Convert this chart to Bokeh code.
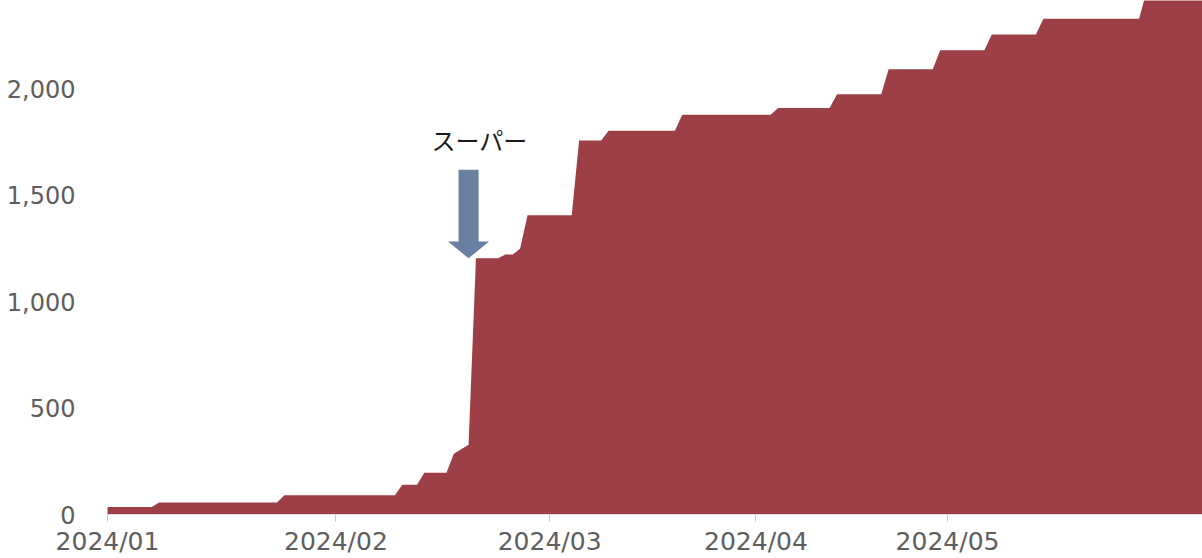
from bokeh.plotting import figure
from bokeh.models import Range1d, FixedTicker, NumeralTickFormatter
from bokeh.core.properties import value
from bokeh.embed import file_html
from bokeh.resources import INLINE

# Cumulative count per day slot (one slot per recorded day, Jan 1 = slot 0).
# Each level is listed by its first and last slot.
slots = [0, 6, 7, 23, 24, 39, 40, 42, 43, 46, 47, 49, 50, 53, 54, 55, 56, 57,
         63, 64, 67, 68, 77, 78, 90, 91, 98, 99, 105, 106, 112, 113, 119, 120,
         126, 127, 140, 141, 149]
totals = [35, 35, 56, 56, 91, 91, 140, 140, 196, 196, 285, 328, 1204, 1204,
          1222, 1222, 1250, 1407, 1407, 1758, 1758, 1804, 1804, 1879, 1879,
          1911, 1911, 1975, 1975, 2093, 2093, 2182, 2182, 2256, 2256, 2330,
          2330, 2460, 2460]

month_slots = [0, 31, 60, 88, 114]
month_labels = ["2024/01", "2024/02", "2024/03", "2024/04", "2024/05"]
y_ticks = [0, 500, 1000, 1500, 2000]

# Callout: the jump when the supermarket entries were added
callout_text = "スーパー"
callout_slot = 49
callout_tip = 1204
callout_tail = 1621
callout_label_y = 1762

AREA_COLOR = "#9C3F46"
ARROW_COLOR = "#6A80A2"
LABEL_COLOR = "#5E5E5E"

W, H = 1202, 558
FRAME_LEFT, FRAME_BOTTOM = 95, 41
X_START, X_END = -1.63, 148.6
Y_END = 2416

p = figure(width=W, height=H, output_backend="svg", toolbar_location=None,
           x_range=Range1d(X_START, X_END), y_range=Range1d(0, Y_END),
           min_border_left=FRAME_LEFT, min_border_right=0,
           min_border_top=0, min_border_bottom=FRAME_BOTTOM)
p.outline_line_color = None
p.xgrid.visible = False
p.ygrid.visible = False
p.background_fill_color = "white"

p.varea(x=slots, y1=[0] * len(slots), y2=totals, fill_color=AREA_COLOR)

# x axis: month ticks
xa = p.xaxis[0]
xa.ticker = FixedTicker(ticks=month_slots)
xa.major_label_overrides = {s: lab for s, lab in zip(month_slots, month_labels)}
xa.bounds = (0, X_END)
xa.axis_line_color = "#D9D9D9"
xa.major_tick_line_color = "#C8C8C8"
xa.minor_tick_line_color = None
xa.major_tick_in = 0
xa.major_tick_out = 7
xa.major_label_standoff = 5
xa.major_label_text_font = "DejaVu Sans"
xa.major_label_text_font_size = "25px"
xa.major_label_text_color = LABEL_COLOR

# y axis: counts with thousands separator
ya = p.yaxis[0]
ya.ticker = FixedTicker(ticks=y_ticks)
ya.formatter = NumeralTickFormatter(format="0,0")
ya.axis_line_color = None
ya.major_tick_line_color = None
ya.minor_tick_line_color = None
ya.major_tick_in = 0
ya.major_tick_out = 0
ya.major_label_standoff = 20
ya.major_label_text_font = "DejaVu Sans"
ya.major_label_text_font_size = "24px"
ya.major_label_text_color = LABEL_COLOR

# Block arrow pointing at the jump, sized in screen pixels
frame_w = W - FRAME_LEFT
frame_h = H - FRAME_BOTTOM
kx = frame_w / (X_END - X_START)
ky = frame_h / Y_END
shaft_half = 10 / kx
head_half = 20.5 / kx
head_len = 17 / ky
head_base = callout_tip + head_len
ax = [callout_slot - shaft_half, callout_slot + shaft_half, callout_slot + shaft_half,
      callout_slot + head_half, callout_slot, callout_slot - head_half,
      callout_slot - shaft_half]
ay = [callout_tail, callout_tail, head_base, head_base, callout_tip, head_base, head_base]
p.patch(ax, ay, fill_color=ARROW_COLOR, line_color=None)

p.text(x=[callout_slot], y=[callout_label_y], text=[callout_text],
       x_offset=11, text_align="center", text_baseline="middle",
       text_font=value("Noto Sans CJK JP"), text_font_size="24px",
       text_color="#1A1A1A")

open("out.html", "w").write(file_html(p, INLINE))
